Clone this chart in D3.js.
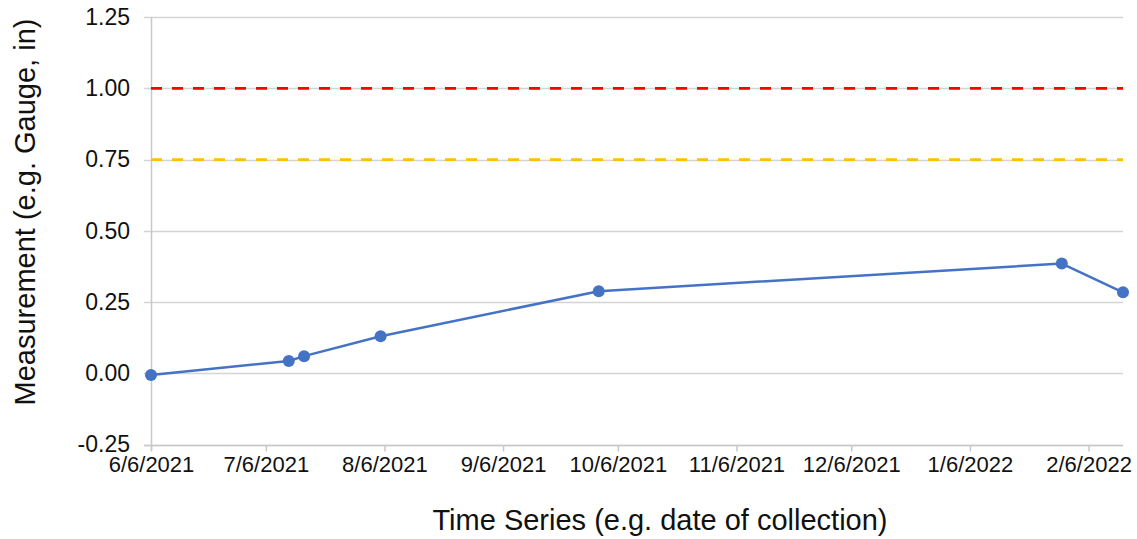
<!DOCTYPE html>
<html>
<head>
<meta charset="utf-8">
<script src="https://cdn.jsdelivr.net/npm/d3@7"></script>
<style>
  html, body { margin: 0; padding: 0; background: #fff; }
  svg { display: block; font-family: "Liberation Sans", Arial, sans-serif; }
</style>
</head>
<body>
<svg id="chart" width="1137" height="539"></svg>
<script>
// Collection dates and gauge measurements (inches)
const dates  = ["6/6/2021", "7/12/2021", "7/16/2021", "8/5/2021", "10/1/2021", "1/30/2022", "2/15/2022"];
const values = [-0.006, 0.043, 0.060, 0.130, 0.288, 0.385, 0.284];

// Threshold levels drawn across the full date range
const alertLevel   = 1.00;
const warningLevel = 0.75;

// Axis ticks
const xTickLabels = ["6/6/2021", "7/6/2021", "8/6/2021", "9/6/2021", "10/6/2021",
                     "11/6/2021", "12/6/2021", "1/6/2022", "2/6/2022"];
const yTickValues = [-0.25, 0, 0.25, 0.5, 0.75, 1.0, 1.25];
const xDomain = ["6/6/2021", "2/15/2022"];
const yDomain = [-0.25, 1.25];

const parse = d3.timeParse("%m/%d/%Y");
const fmtDate = d3.timeFormat("%-m/%-d/%Y");
const points = dates.map((d, i) => ({ date: parse(d), value: values[i] }));

const svg = d3.select("#chart");
const margin = { left: 151, right: 14, top: 17, bottom: 95 };
const W = 1137, H = 539;
const FONT = "'Liberation Sans', Arial, sans-serif";

const x = d3.scaleTime()
  .domain(xDomain.map(parse))
  .range([margin.left, W - margin.right]);
const y = d3.scaleLinear()
  .domain(yDomain)
  .range([H - margin.bottom + 0.5, margin.top]);

// Horizontal gridlines
svg.append("g")
  .selectAll("line")
  .data(yTickValues)
  .join("line")
  .attr("x1", margin.left - 7)
  .attr("x2", W - margin.right)
  .attr("y1", d => Math.round(y(d)) + 0.5)
  .attr("y2", d => Math.round(y(d)) + 0.5)
  .attr("stroke", "#d4d4d4")
  .attr("stroke-width", 1.5);

// Y axis labels (plain hyphen for negatives)
const yAxis = d3.axisLeft(y)
  .tickValues(yTickValues)
  .tickFormat(d => d.toFixed(2))
  .tickSize(0)
  .tickPadding(21);
svg.append("g")
  .attr("transform", `translate(${margin.left},0)`)
  .call(yAxis)
  .call(g => g.select(".domain").remove())
  .call(g => g.selectAll("text")
    .attr("font-size", 23)
    .attr("fill", "#111")
    .style("font-family", FONT));

// X axis with monthly ticks
const xAxis = d3.axisBottom(x)
  .tickValues(xTickLabels.map(parse))
  .tickFormat(fmtDate)
  .tickSize(6)
  .tickPadding(5);
svg.append("g")
  .attr("transform", `translate(0,${Math.round(y(yDomain[0])) + 0.5})`)
  .call(xAxis)
  .call(g => g.select(".domain")
    .attr("stroke", "#c8c8c8")
    .attr("stroke-width", 1.5)
    .attr("d", `M${margin.left - 7},0H${W - margin.right}`))
  .call(g => g.selectAll(".tick line").attr("stroke", "#c8c8c8").attr("stroke-width", 1.5))
  .call(g => g.selectAll("text")
    .attr("font-size", 22)
    .attr("fill", "#111")
    .style("font-family", FONT));

// Vertical axis line
svg.append("line")
  .attr("x1", margin.left + 0.5)
  .attr("x2", margin.left + 0.5)
  .attr("y1", y(yDomain[1]))
  .attr("y2", y(yDomain[0]) + 6)
  .attr("stroke", "#c8c8c8")
  .attr("stroke-width", 1.5);

// Threshold lines
const xs = x.domain();
[[alertLevel, "#ff0000"], [warningLevel, "#ffc000"]].forEach(([lvl, color]) => {
  svg.append("line")
    .attr("x1", x(xs[0]))
    .attr("x2", x(xs[1]))
    .attr("y1", y(lvl))
    .attr("y2", y(lvl))
    .attr("stroke", color)
    .attr("stroke-width", 2.75)
    .attr("stroke-dasharray", "11 10");
});

// Measurement series
const line = d3.line().x(d => x(d.date)).y(d => y(d.value));
svg.append("path")
  .datum(points)
  .attr("d", line)
  .attr("fill", "none")
  .attr("stroke", "#4472c4")
  .attr("stroke-width", 2.5)
  .attr("stroke-linejoin", "round");

svg.append("g")
  .selectAll("circle")
  .data(points)
  .join("circle")
  .attr("cx", d => x(d.date))
  .attr("cy", d => y(d.value))
  .attr("r", 6)
  .attr("fill", "#4472c4");

// Axis titles
svg.append("text")
  .attr("x", 660)
  .attr("y", 530)
  .attr("text-anchor", "middle")
  .attr("font-size", 29)
  .attr("fill", "#111")
  .style("font-family", FONT)
  .text("Time Series (e.g. date of collection)");

svg.append("text")
  .attr("transform", "translate(35,212) rotate(-90)")
  .attr("text-anchor", "middle")
  .attr("font-size", 29)
  .attr("fill", "#111")
  .style("font-family", FONT)
  .text("Measurement (e.g. Gauge, in)");
</script>
</body>
</html>
